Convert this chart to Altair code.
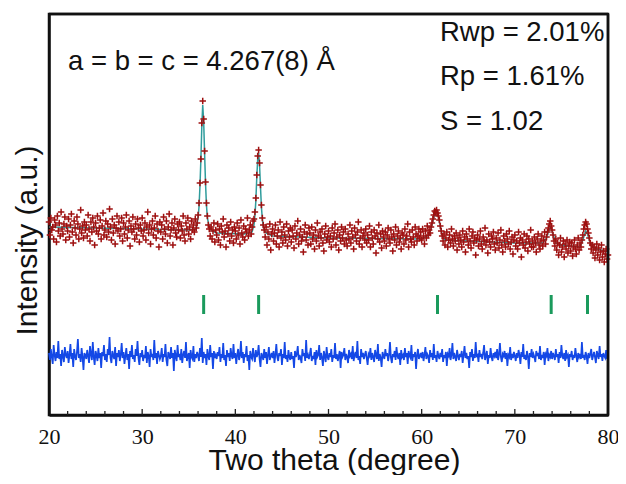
import altair as alt
import pandas as pd

# ---------------- data ----------------
TWO_THETA_START = 20.0
TWO_THETA_STEP = 0.1

OBS = [
    193, 180, 197, 185, 188, 176, 195, 190, 173, 199, 184, 192, 179, 203, 186, 181, 191, 198, 175, 189,
    184, 196, 178, 190, 201, 183, 172, 194, 187, 180, 198, 191, 176, 186, 205, 182, 189, 177, 193, 185,
    190, 179, 200, 186, 174, 193, 183, 197, 188, 170, 192, 184, 199, 181, 187, 195, 176, 189, 202, 180,
    185, 194, 178, 191, 183, 206, 188, 175, 196, 182, 190, 171, 187, 199, 184, 193, 179, 186, 197, 174,
    192, 181, 188, 200, 177, 185, 194, 169, 189, 183, 198, 186, 176, 191, 180, 196, 187, 173, 190, 184,
    197, 179, 185, 192, 175, 188, 203, 182, 190, 171, 186, 194, 180, 187, 199, 177, 191, 184, 168, 193,
    183, 190, 176, 198, 186, 181, 194, 172, 188, 201, 179, 185, 192, 170, 187, 196, 182, 178, 191, 185,
    193, 177, 189, 184, 199, 180, 174, 192, 186, 197, 181, 188, 176, 194, 185, 190, 183, 196, 187, 192,
    200, 212, 232, 256, 292, 314, 296, 264, 233, 212, 199, 190, 186, 179, 188, 176, 184, 192, 173, 185,
    180, 191, 175, 186, 170, 189, 183, 196, 178, 184, 168, 190, 181, 187, 174, 193, 179, 185, 172, 188,
    184, 176, 192, 180, 187, 171, 195, 182, 178, 189, 175, 186, 183, 197, 179, 185, 190, 181, 188, 194,
    196, 203, 217, 240, 259, 265, 252, 230, 210, 197, 190, 185, 178, 188, 170, 183, 176, 191, 165, 181,
    186, 174, 182, 190, 171, 179, 185, 168, 193, 177, 183, 172, 188, 180, 175, 191, 169, 184, 178, 187,
    173, 185, 179, 167, 189, 176, 182, 194, 171, 180, 186, 174, 178, 163, 183, 190, 175, 181, 170, 187,
    182, 171, 188, 176, 180, 166, 185, 174, 192, 179, 169, 183, 177, 186, 172, 164, 181, 189, 175, 178,
    184, 173, 179, 168, 187, 176, 182, 191, 170, 178, 185, 165, 180, 174, 188, 177, 183, 171, 186, 175,
    169, 181, 176, 190, 172, 184, 178, 166, 187, 180, 174, 183, 193, 171, 177, 185, 168, 179, 182, 175,
    186, 172, 180, 175, 189, 168, 183, 177, 171, 185, 179, 162, 182, 176, 190, 173, 181, 167, 184, 178,
    174, 183, 169, 180, 187, 176, 172, 185, 178, 164, 181, 175, 188, 170, 179, 184, 173, 177, 166, 182,
    180, 171, 186, 175, 179, 191, 168, 183, 176, 173, 185, 178, 170, 188, 181, 174, 179, 186, 177, 183,
    175, 186, 179, 171, 184, 177, 189, 180, 185, 182, 188, 192, 196, 200, 204, 203, 205, 202, 199, 195,
    189, 184, 179, 174, 181, 170, 177, 183, 168, 175, 180, 172, 186, 176, 169, 179, 174, 182, 165, 177,
    171, 180, 175, 168, 184, 173, 178, 163, 181, 176, 170, 186, 174, 167, 179, 183, 172, 177, 160, 175,
    180, 169, 176, 184, 171, 166, 178, 174, 187, 170, 175, 162, 181, 173, 168, 179, 176, 183, 171, 165,
    177, 172, 182, 167, 175, 185, 170, 163, 179, 174, 168, 181, 176, 171, 184, 166, 173, 178, 161, 175,
    180, 169, 174, 166, 183, 172, 177, 158, 175, 170, 181, 167, 173, 179, 164, 176, 171, 185, 168, 174,
    168, 178, 172, 163, 176, 181, 170, 166, 174, 179, 169, 175, 183, 171, 178, 183, 187, 191, 194, 189,
    185, 180, 174, 169, 176, 165, 172, 160, 170, 177, 163, 168, 174, 158, 171, 166, 175, 162, 169, 173,
    164, 172, 159, 168, 175, 166, 161, 170, 177, 165, 172, 168, 175, 180, 186, 190, 193, 191, 186, 182,
    177, 172, 166, 170, 162, 168, 157, 165, 171, 160, 167, 155, 163, 170, 158, 164, 153, 161, 166, 156,
    160,
]

DIFF = [
    62, 55, 66, 58, 51, 70, 60, 54, 63, 57, 74, 56, 61, 49, 65, 59, 53, 68, 60, 57,
    64, 52, 60, 71, 56, 62, 48, 66, 59, 55, 63, 76, 57, 61, 53, 67, 58, 45, 62, 60,
    56, 65, 59, 52, 69, 61, 55, 73, 58, 50, 64, 60, 54, 67, 57, 62, 47, 63, 59, 70,
    55, 61, 53, 66, 60, 78, 57, 52, 64, 59, 56, 68, 49, 62, 58, 65, 54, 60, 72, 57,
    63, 51, 59, 67, 55, 61, 46, 64, 58, 70, 56, 60, 53, 66, 59, 74, 57, 50, 62, 58,
    65, 54, 60, 57, 69, 52, 63, 59, 48, 66, 58, 61, 55, 75, 57, 62, 51, 64, 60, 56,
    59, 67, 53, 61, 58, 71, 55, 49, 63, 60, 56, 68, 57, 62, 44, 65, 59, 54, 70, 58,
    61, 55, 66, 52, 60, 64, 57, 73, 54, 59, 62, 47, 65, 58, 56, 69, 53, 61, 57, 63,
    60, 54, 67, 58, 77, 52, 63, 57, 61, 50, 66, 59, 55, 70, 58, 62, 46, 64, 57, 60,
    56, 63, 59, 68, 53, 61, 57, 72, 55, 60, 49, 65, 58, 62, 54, 67, 59, 56, 71, 57,
    62, 51, 60, 66, 55, 59, 74, 57, 63, 52, 61, 58, 69, 54, 60, 45, 64, 58, 56, 67,
    59, 53, 65, 58, 61, 70, 56, 48, 62, 59, 55, 66, 57, 63, 51, 60, 68, 55, 59, 62,
    57, 64, 52, 60, 71, 58, 54, 62, 59, 66, 50, 61, 57, 73, 56, 60, 53, 65, 58, 55,
    63, 56, 59, 47, 64, 58, 61, 69, 55, 60, 57, 52, 66, 59, 62, 54, 75, 57, 60, 56,
    61, 67, 54, 59, 56, 63, 50, 65, 58, 60, 70, 55, 62, 57, 49, 64, 59, 53, 68, 58,
    55, 62, 58, 66, 53, 60, 57, 72, 56, 61, 54, 59, 64, 47, 63, 58, 60, 67, 55, 61,
    58, 52, 65, 59, 61, 56, 69, 54, 60, 63, 57, 74, 55, 59, 51, 66, 58, 62, 56, 60,
    64, 57, 50, 61, 59, 67, 55, 62, 58, 53, 65, 60, 56, 71, 54, 61, 57, 48, 63, 59,
    56, 66, 59, 62, 54, 60, 73, 57, 52, 61, 58, 64, 55, 68, 59, 56, 62, 50, 65, 58,
    60, 55, 67, 58, 62, 51, 64, 59, 57, 70, 54, 61, 58, 63, 46, 60, 66, 56, 59, 62,
    57, 63, 54, 60, 68, 56, 61, 59, 52, 65, 58, 62, 55, 71, 57, 60, 53, 64, 59, 56,
    62, 58, 66, 53, 60, 57, 63, 49, 61, 59, 67, 55, 60, 72, 56, 62, 58, 54, 65, 59,
    55, 61, 58, 64, 52, 60, 69, 57, 62, 56, 59, 47, 63, 58, 66, 54, 61, 57, 73, 59,
    60, 53, 65, 58, 61, 56, 62, 70, 55, 59, 64, 51, 60, 57, 67, 58, 54, 62, 59, 63,
    57, 66, 55, 60, 72, 58, 53, 61, 59, 64, 56, 62, 49, 60, 58, 68, 55, 61, 57, 63,
    59, 54, 62, 57, 65, 60, 51, 63, 58, 71, 56, 60, 55, 64, 59, 46, 62, 58, 66, 57,
    61, 58, 53, 64, 59, 62, 56, 69, 55, 60, 57, 63, 50, 61, 59, 67, 54, 60, 58, 64,
    56, 62, 59, 55, 66, 58, 61, 52, 63, 57, 70, 59, 56, 62, 54, 65, 58, 60, 48, 61,
    58, 64, 55, 60, 57, 67, 59, 53, 62, 58, 61, 56, 73, 57, 60, 55, 63, 59, 51, 62,
    57, 61, 66, 55, 59, 63, 58, 52, 64, 60, 56, 69, 58, 61, 54, 62, 59, 57, 65, 56,
    60,
]

CALC_X = [20, 25, 30, 35, 35.8, 36.0, 36.1, 36.2, 36.3, 36.4, 36.5, 36.6, 36.7, 36.8, 36.9, 37.0,
          37.2, 37.5, 38, 41, 41.8, 42.0, 42.1, 42.2, 42.3, 42.4, 42.5, 42.6, 42.7, 42.8, 42.9,
          43.0, 43.3, 44, 50, 60, 60.8, 61.0, 61.2, 61.4, 61.6, 61.8, 62.0, 62.2, 62.5, 65, 70,
          73.0, 73.4, 73.7, 73.85, 74.1, 74.4, 75, 77.0, 77.3, 77.6, 77.8, 78.1, 78.5, 80]
CALC_Y = [188, 187, 186, 185, 186, 197, 208, 228, 255, 288, 310, 294, 262, 232, 210, 197,
          188, 184, 182, 181, 183, 190, 199, 214, 237, 256, 262, 250, 228, 208, 196,
          188, 182, 179, 177, 176, 180, 186, 194, 201, 203, 198, 189, 180, 175, 174, 172,
          172, 177, 186, 188, 181, 172, 170, 168, 175, 184, 181, 172, 167, 163]

BRAGG = [36.6, 42.5, 61.7, 73.9, 77.8]

X_LABELS = [20, 30, 40, 50, 60, 70, 80]
MINOR_TICKS = [22, 24, 26, 28, 32, 34, 36, 38, 42, 44, 46, 48, 52, 54, 56, 58,
               62, 64, 66, 68, 72, 74, 76, 78]
MAJOR_TICKS = [30, 40, 50, 60, 70]

LATTICE_TEXT = "a = b = c = 4.267(8) Å"
STATS_TEXT = ["Rwp = 2.01%", "Rp = 1.61%", "S = 1.02"]

assert len(OBS) == 601, len(OBS)
assert len(DIFF) == 601, len(DIFF)
assert len(CALC_X) == len(CALC_Y)

# ---------------- tables ----------------
tt = [round(TWO_THETA_START + TWO_THETA_STEP * i, 2) for i in range(len(OBS))]
obs_df = pd.DataFrame({"tt": tt, "I": OBS})
diff_df = pd.DataFrame({"tt": tt, "I": DIFF})
calc_df = pd.DataFrame({"tt": CALC_X, "I": CALC_Y})
bragg_df = pd.DataFrame({"tt": BRAGG})
minor_df = pd.DataFrame({"tt": MINOR_TICKS})
major_df = pd.DataFrame({"tt": MAJOR_TICKS})
edges_x = pd.DataFrame({"tt": [20, 80]})

W, H = 559, 401

xscale = alt.Scale(domain=[20, 80], nice=False, zero=False)
yscale = alt.Scale(domain=[0, 401], nice=False, zero=False)

x_axis = alt.Axis(
    values=X_LABELS, grid=False, ticks=False, domain=True,
    domainColor="#111", domainWidth=2.5,
    labelFont="Liberation Serif", labelFontSize=22, labelColor="#111",
    labelBaseline="alphabetic", labelPadding=28, labelFlush=False, labelOverlap=False,
    title="Two theta (degree)", titleFont="Liberation Sans", titleFontSize=30,
    titleFontWeight="normal", titleColor="#111", titleX=285, titleY=54,
    titleBaseline="alphabetic", titleAlign="center",
)
y_axis = alt.Axis(
    labels=False, ticks=False, grid=False, domain=True,
    domainColor="#111", domainWidth=2.5,
    title="Intensity (a.u.)", titleFont="Liberation Sans", titleFontSize=30,
    titleFontWeight="normal", titleColor="#111", titleX=-13, titleY=226,
    titleBaseline="alphabetic", titleAlign="center", titleAngle=270,
)

X = alt.X("tt:Q", scale=xscale, axis=x_axis)
Y = alt.Y("I:Q", scale=yscale, axis=y_axis)

calc = alt.Chart(calc_df).mark_line(color="#2f9c9c", strokeWidth=1.5).encode(x=X, y=Y)

obs = alt.Chart(obs_df).mark_point(
    shape="M-1,0L1,0M0,-1L0,1", size=42, filled=False,
    stroke="#9e1010", strokeWidth=1.5, opacity=1,
).encode(x=X, y=Y)

diff = alt.Chart(diff_df).mark_line(color="#1448e6", strokeWidth=1.7).encode(x=X, y=Y)

bragg = alt.Chart(bragg_df).mark_rule(color="#1a9a5c", strokeWidth=3).encode(
    x="tt:Q", y=alt.datum(101), y2=alt.datum(120)
)

minor = alt.Chart(minor_df).mark_rule(color="#222", strokeWidth=1.3).encode(
    x="tt:Q", y=alt.value(H), y2=alt.value(H - 4)
)
major = alt.Chart(major_df).mark_rule(color="#222", strokeWidth=1.3).encode(
    x="tt:Q", y=alt.value(H), y2=alt.value(H - 6)
)

# top edge and right edge of the box drawn through the scales
f_top = alt.Chart(edges_x).mark_line(color="#111", strokeWidth=2.5).encode(
    x="tt:Q", y=alt.datum(401)
)
f_right = alt.Chart(pd.DataFrame({"I": [0, 401]})).mark_line(color="#111", strokeWidth=2.5).encode(
    x=alt.datum(80), y="I:Q"
)

lattice = alt.Chart(pd.DataFrame({"t": [LATTICE_TEXT]})).mark_text(
    align="left", baseline="alphabetic", font="Liberation Sans", fontSize=27.5, color="#111"
).encode(x=alt.value(19), y=alt.value(56), text="t:N")

stats_layers = []
for txt, yy in zip(STATS_TEXT, [27, 71, 116]):
    stats_layers.append(
        alt.Chart(pd.DataFrame({"t": [txt]})).mark_text(
            align="left", baseline="alphabetic", font="Liberation Sans", fontSize=27.5, color="#111"
        ).encode(x=alt.value(391), y=alt.value(yy), text="t:N")
    )

chart = alt.layer(
    calc, obs, diff, bragg, minor, major, f_top, f_right, lattice, *stats_layers
).properties(
    width=W, height=H,
    autosize=alt.AutoSizeParams(type="none"),
    padding={"left": 41, "top": 6, "right": 10, "bottom": 60},
    background="white",
).configure_view(stroke="#111", strokeWidth=2.5)

chart.save("out.html", embed_options={"renderer": "svg", "actions": False})
